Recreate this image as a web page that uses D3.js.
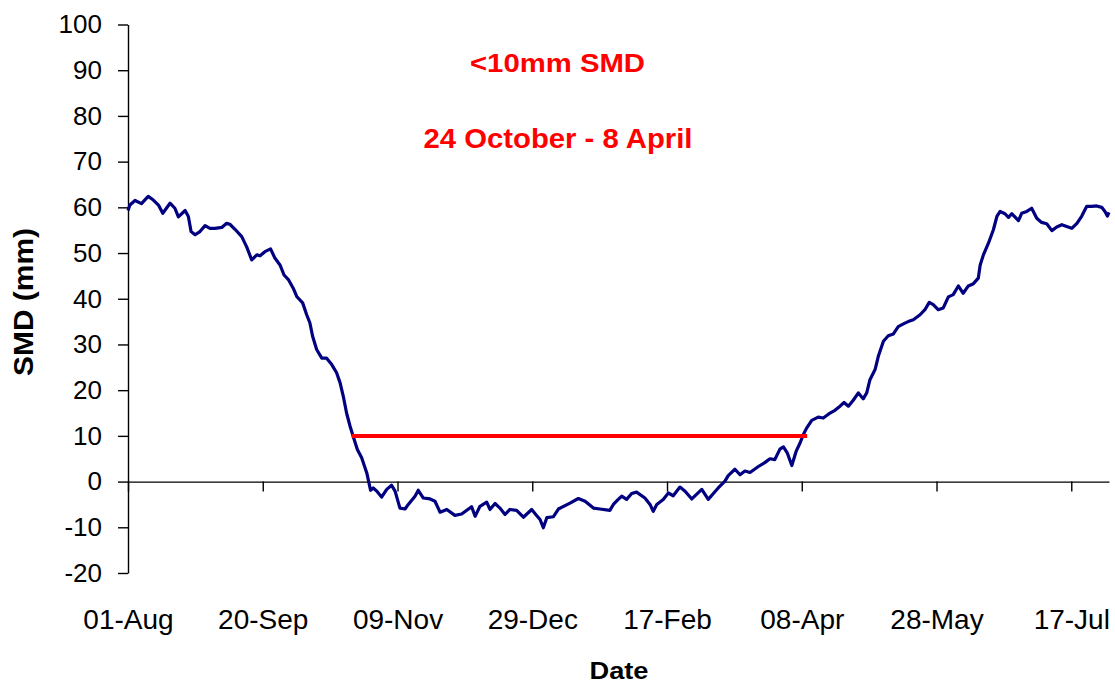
<!DOCTYPE html>
<html>
<head>
<meta charset="utf-8">
<script src="https://cdn.jsdelivr.net/npm/d3@7"></script>
<style>
  html, body { margin: 0; padding: 0; background: #fff; }
  svg { display: block; font-family: "Liberation Sans", Arial, sans-serif; }
</style>
</head>
<body>
<svg id="chart" width="1115" height="684"></svg>
<script>
// Days after 01-Aug
const days = [0,0.7,2.6,5,7.5,9.4,11.3,12.9,15.6,17.4,18.7,21.2,22.4,23.4,24.9,26.7,28.6,30.4,32.3,34.8,36.6,37.8,39.7,42.2,44,45.9,47.8,49,50.8,52.9,54.5,56.4,57.9,59.5,61.3,62.6,64.8,66.3,67.5,68.5,70,71.9,73.7,75.6,77.4,78.7,79.9,81.1,82.4,83.6,85.1,86.7,88.6,90,91,92.5,94.1,96,97.8,99.1,100.9,102.8,104,106.5,107.7,109.6,112.1,113.9,115.8,118.3,121.3,123.8,127.5,128.8,130.6,133.1,134.3,136.2,138,139.9,141.7,144.2,146.7,149.8,151.6,152.9,154.1,155.4,157.8,159.7,164,167.1,169.6,172.7,175.1,178.8,180.1,181.9,183.2,185,186.9,188.7,191.8,193.7,194.9,196.2,198.6,200.5,202.3,204.8,206.7,209.2,212.9,215.3,217.2,219,221.5,222.7,225.2,227.1,228.9,230.8,233.9,236.4,238.2,240,241.9,243.2,244.6,246.3,247.9,249.4,250.6,251.8,253.7,256.1,258,260.5,262.3,264.2,265.7,267.3,269.1,271,272.8,274.1,275.3,277.2,278.4,280.3,282.1,284,285.8,287.7,289.5,291.4,293.9,295.7,297.3,298.8,300.6,302.5,304.4,306.2,308.1,309.9,311.8,313.7,315.5,316.2,317.4,319.3,321.1,322.4,323.6,325.4,326.7,327.9,330.4,331.6,333.5,335.3,337.2,339,340.9,342.8,344.6,346.5,348.3,350.2,352.1,353.9,355.7,357.6,359.4,361.3,362.5,363.4,364];
// Soil moisture deficit (mm)
const smd = [59.3,60.5,61.5,60.8,62.4,61.6,60.5,58.7,60.9,59.8,57.9,59.3,58,54.7,54,54.7,56,55.4,55.4,55.6,56.5,56.3,55.2,53.6,51.4,48.5,49.6,49.4,50.3,50.9,48.9,47.4,45.2,44.2,42.3,40.5,39.1,36.5,34.7,31.8,28.9,27,27,25.6,23.8,21.6,18.6,15,12.1,9.8,7,5.2,1.9,-1.9,-1.4,-2.2,-3.4,-1.7,-0.8,-2.1,-5.8,-6,-5,-3.2,-1.9,-3.6,-3.8,-4.3,-6.7,-6.1,-7.4,-7.1,-5.5,-7.6,-5.4,-4.5,-6.1,-4.8,-5.8,-7.2,-6.1,-6.3,-7.8,-6.1,-7.4,-8.3,-10.1,-7.9,-7.7,-6,-4.7,-3.7,-4.3,-5.8,-6,-6.3,-5,-3.9,-3.2,-3.9,-2.6,-2.3,-3.6,-5,-6.5,-5,-3.9,-2.5,-3.1,-1.2,-2.1,-3.8,-1.7,-3.9,-2.6,-1.4,0.1,1.3,2.7,1.5,2.3,2,3.3,4.2,5,4.8,7.1,7.6,6.3,3.5,6.6,8.5,10.3,11.7,13.4,14.1,13.9,15,15.6,16.5,17.3,16.5,17.8,19.4,18.1,19.4,22.3,24.5,27.4,30.7,31.9,32.3,33.9,34.5,35,35.4,36.5,37.6,39.2,38.7,37.6,38,40.4,40.9,42.8,41.2,42.8,43.3,44.5,47.4,49.6,52.2,55.1,58,59.1,58.6,57.8,58.6,57.1,58.7,59.1,59.8,57.6,56.7,56.4,54.9,55.7,56.2,55.8,55.4,56.5,58.1,60.2,60.2,60.3,60,59.1,58.1,58.9];
// Threshold period (<10mm SMD): 24 October - 8 April
const thresholdDays = [83, 252];
const thresholdValue = [10, 10];
// Axis ticks
const xTickDays = [0, 50, 100, 150, 200, 250, 300, 350];
const xTickLabels = ["01-Aug", "20-Sep", "09-Nov", "29-Dec", "17-Feb", "08-Apr", "28-May", "17-Jul"];
const yTicks = [-20, -10, 0, 10, 20, 30, 40, 50, 60, 70, 80, 90, 100];
const titleLines = ["<10mm SMD", "24 October - 8 April"];

const svg = d3.select("#chart");
const x = d3.scaleLinear().domain([0, 364]).range([128, 1109]);
const y = d3.scaleLinear().domain([-20, 100]).range([573, 24.5]);

// Y axis
const yAxis = svg.append("g")
  .attr("transform", `translate(${x(0)},0)`)
  .call(d3.axisLeft(y).tickValues(yTicks).tickSize(10).tickSizeOuter(0).tickPadding(16)
    .tickFormat(d => String(d)));
yAxis.select(".domain").attr("stroke", "#000").attr("stroke-width", 1.4);
yAxis.selectAll(".tick line").attr("stroke", "#000").attr("stroke-width", 1.4);
yAxis.selectAll(".tick text").attr("font-size", 26).attr("fill", "#000")
  .attr("font-family", "Liberation Sans, Arial, sans-serif");

// X axis at y = 0
const xAxis = svg.append("g")
  .attr("transform", `translate(0,${y(0)})`)
  .call(d3.axisBottom(x).tickValues(xTickDays).tickSize(10).tickSizeOuter(0)
    .tickFormat((d, i) => xTickLabels[i]));
xAxis.select(".domain").attr("stroke", "#000").attr("stroke-width", 1.4);
xAxis.selectAll(".tick line").attr("stroke", "#000").attr("stroke-width", 1.4);
xAxis.selectAll(".tick text")
  .attr("font-size", 28).attr("fill", "#000")
  .attr("font-family", "Liberation Sans, Arial, sans-serif")
  .attr("y", 629 - y(0)).attr("dy", 0);

// SMD line
const line = d3.line().x(d => x(d[0])).y(d => y(d[1]));
svg.append("path")
  .datum(days.map((d, i) => [d, smd[i]]))
  .attr("d", line)
  .attr("fill", "none")
  .attr("stroke", "#000080")
  .attr("stroke-width", 3.2)
  .attr("stroke-linejoin", "round");

// Threshold line
svg.append("path")
  .datum(thresholdDays.map((d, i) => [d, thresholdValue[i]]))
  .attr("d", line)
  .attr("fill", "none")
  .attr("stroke", "#ff0000")
  .attr("stroke-width", 4);

// Annotation text
svg.append("text")
  .attr("x", 557.5).attr("y", 71.5)
  .attr("text-anchor", "middle")
  .attr("font-size", 25).attr("font-weight", "bold").attr("fill", "#ff0000")
  .attr("textLength", 175).attr("lengthAdjust", "spacingAndGlyphs")
  .text(titleLines[0]);
svg.append("text")
  .attr("x", 558).attr("y", 148.3)
  .attr("text-anchor", "middle")
  .attr("font-size", 28).attr("font-weight", "bold").attr("fill", "#ff0000")
  .attr("textLength", 269).attr("lengthAdjust", "spacingAndGlyphs")
  .text(titleLines[1]);

// Axis titles
svg.append("text")
  .attr("transform", "translate(33,302) rotate(-90)")
  .attr("text-anchor", "middle")
  .attr("font-size", 27).attr("font-weight", "bold").attr("fill", "#000")
  .attr("textLength", 148).attr("lengthAdjust", "spacingAndGlyphs")
  .text("SMD (mm)");
svg.append("text")
  .attr("x", 619).attr("y", 679)
  .attr("text-anchor", "middle")
  .attr("font-size", 24).attr("font-weight", "bold").attr("fill", "#000")
  .attr("textLength", 59).attr("lengthAdjust", "spacingAndGlyphs")
  .text("Date");
</script>
</body>
</html>
